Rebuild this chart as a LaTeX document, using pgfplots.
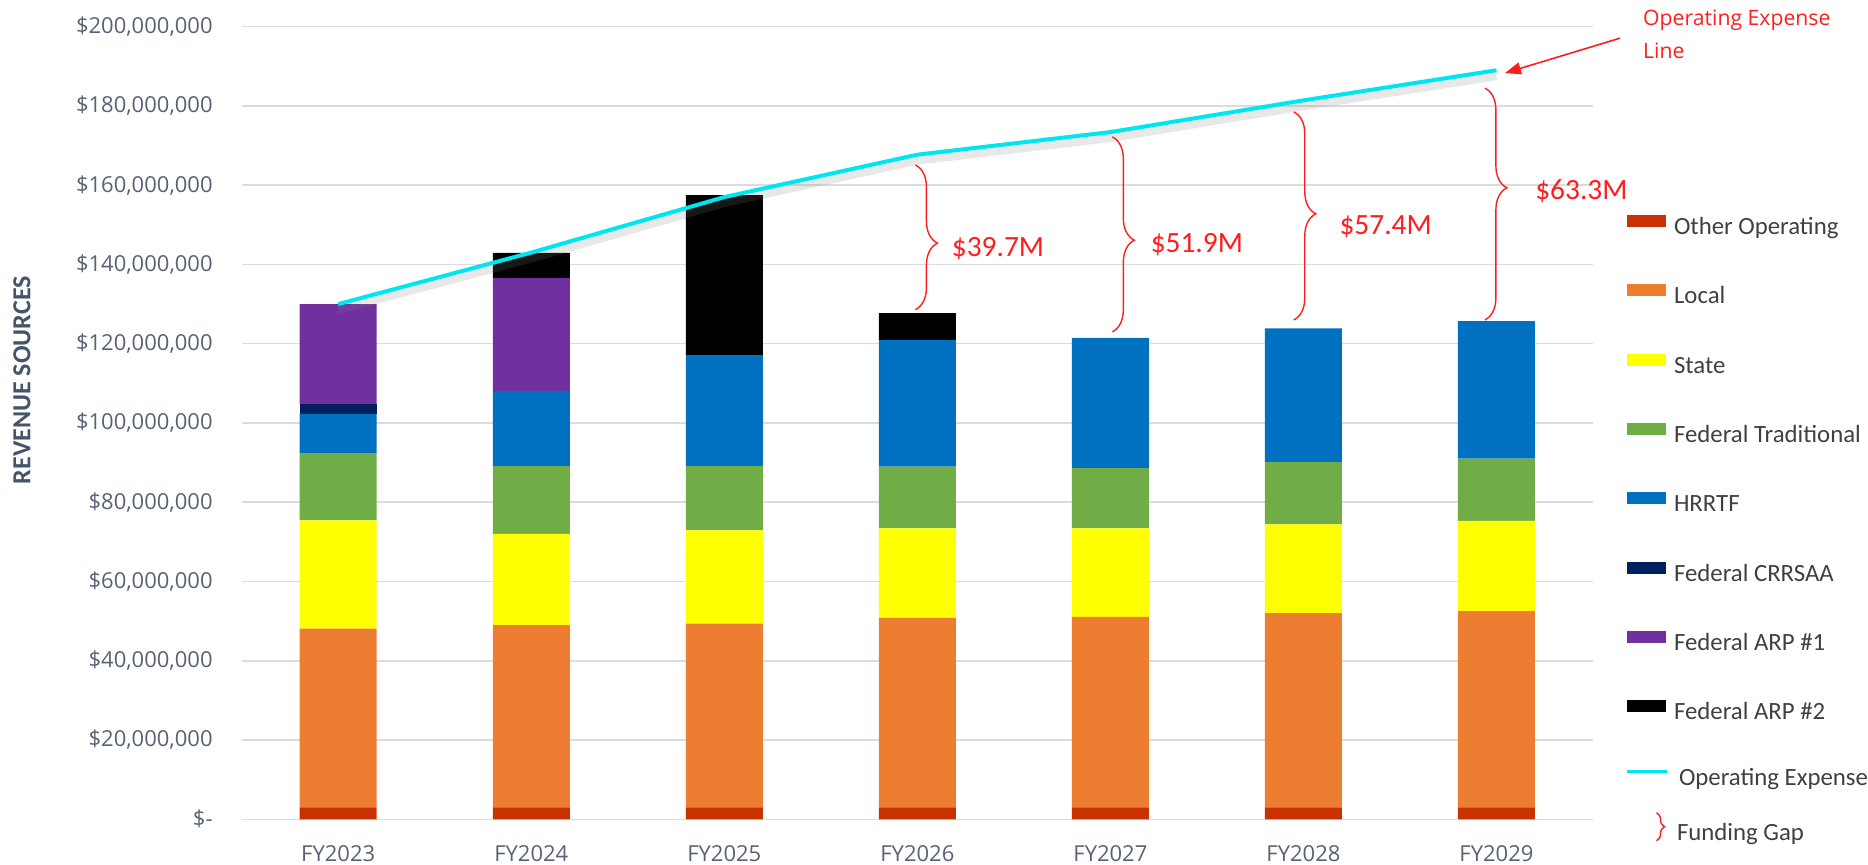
\documentclass[border=0pt]{standalone}
\usepackage{pgfplots}
\pgfplotsset{compat=1.18}
\usepackage{pgfplotstable}
\usepackage{fontspec}
\setmainfont{Open Sans}
\newfontfamily\carlito{Carlito}
\usetikzlibrary{decorations.pathreplacing,arrows.meta}

\definecolor{cOther}{RGB}{200,50,0}
\definecolor{cLocal}{RGB}{237,125,49}
\definecolor{cState}{RGB}{255,255,0}
\definecolor{cFed}{RGB}{112,173,71}
\definecolor{cHRRTF}{RGB}{0,112,192}
\definecolor{cCRRSAA}{RGB}{0,32,96}
\definecolor{cARPa}{RGB}{112,48,160}
\definecolor{cARPb}{RGB}{0,0,0}
\definecolor{cLine}{RGB}{0,230,240}
\definecolor{cRed}{RGB}{255,30,30}
\definecolor{cTick}{RGB}{89,98,117}
\definecolor{cGrid}{RGB}{220,220,224}
\definecolor{cLab}{RGB}{68,84,106}
\definecolor{cLeg}{RGB}{64,64,64}

% values in millions of dollars
\pgfplotstableread{
x other local state fedtrad hrrtf crrsaa arpa arpb opex
0 3 45.1 27.3 17.0  9.9 2.5 25.2  0.0 130.0
1 3 46.0 23.0 17.1 19.0 0.0 28.5  6.3 143.0
2 3 46.4 23.5 16.2 28.0 0.0  0.0 40.4 157.0
3 3 47.8 22.6 15.6 31.9 0.0  0.0  6.8 167.7
4 3 48.1 22.3 15.2 32.9 0.0  0.0  0.0 173.4
5 3 49.0 22.4 15.7 33.8 0.0  0.0  0.0 181.4
6 3 49.5 22.8 15.7 34.7 0.0  0.0  0.0 189.0
}\data

\pgfplotsset{
  base/.style={scale only axis, width=675.65pt, height=396.3pt,
    xmin=-0.5, xmax=6.5, ymin=0, ymax=200,
    at={(120.85pt,22.85pt)}, anchor=south west, clip=false},
  patchleg/.style={legend image code/.code={\fill[##1,draw=none] (0pt,1pt) rectangle (19.5pt,7pt);}},
}

\begin{document}
\begin{tikzpicture}
\path[use as bounding box] (0,0) rectangle (934pt,432.5pt);
\begin{axis}[base,
  ybar stacked, bar width=38.5pt,
  axis line style={draw=none},
  major tick length=0pt,
  ymajorgrids, grid style={cGrid, line width=0.75pt},
  ytick={0,20,...,200},
  yticklabels={{\$-},{\$20,000,000},{\$40,000,000},{\$60,000,000},{\$80,000,000},{\$100,000,000},{\$120,000,000},{\$140,000,000},{\$160,000,000},{\$180,000,000},{\$200,000,000}},
  xtick={0,...,6},
  xticklabels={FY2023,FY2024,FY2025,FY2026,FY2027,FY2028,FY2029},
  yticklabel style={font=\fontsize{11}{13}\selectfont, text=cTick, inner sep=0pt, anchor=east, xshift=-14.35pt},
  xticklabel style={font=\fontsize{11}{13}\selectfont, text=cTick, inner sep=0pt, anchor=north, yshift=-13pt},
  ylabel={REVENUE SOURCES},
  ylabel style={at={(axis description cs:-0.1626,0.554)}, anchor=center, font=\carlito\bfseries\fontsize{13}{15}\selectfont, text=cLab},
  legend style={at={(axis description cs:1.0237,0.7624)}, anchor=north west, draw=none, fill=none,
    inner sep=0pt, outer sep=0pt, row sep=22.4pt, column sep=3pt,
    font=\carlito\fontsize{12.4}{14}\selectfont, text=cLeg,
    nodes={inner sep=0pt, text height=8pt, text depth=2.5pt}},
  legend cell align=left,
]
\addplot[fill=cOther, draw=none, patchleg] table[x=x,y=other]{\data};
\addlegendentry{Other Operating}
\addplot[fill=cLocal, draw=none, patchleg] table[x=x,y=local]{\data};
\addlegendentry{Local}
\addplot[fill=cState, draw=none, patchleg] table[x=x,y=state]{\data};
\addlegendentry{State}
\addplot[fill=cFed, draw=none, patchleg] table[x=x,y=fedtrad]{\data};
\addlegendentry{Federal Traditional}
\addplot[fill=cHRRTF, draw=none, patchleg] table[x=x,y=hrrtf]{\data};
\addlegendentry{HRRTF}
\addplot[fill=cCRRSAA, draw=none, patchleg] table[x=x,y=crrsaa]{\data};
\addlegendentry{Federal CRRSAA}
\addplot[fill=cARPa, draw=none, patchleg] table[x=x,y=arpa]{\data};
\addlegendentry{Federal ARP \#1}
\addplot[fill=cARPb, draw=none, patchleg] table[x=x,y=arpb]{\data};
\addlegendentry{Federal ARP \#2}
\addlegendimage{legend image code/.code={\draw[cLine, line width=1.5pt] (0pt,4pt) -- (20pt,4pt);}}
\addlegendentry{\hspace{2.5pt}Operating Expense}
\addlegendimage{legend image code/.code={\draw[overlay, cRed, line width=0.7pt, decorate, decoration={brace, amplitude=4pt}] (15pt,16.5pt) -- (15pt,2.5pt);}}
\addlegendentry{\raisebox{5.5pt}{\hspace{1.5pt}Funding Gap}}
\end{axis}

\begin{axis}[base, hide axis]
\addplot[gray, opacity=0.18, line width=4pt, /tikz/yshift=-3pt, forget plot] table[x=x,y=opex]{\data};
\addplot[cLine, line width=2pt] table[x=x,y=opex]{\data};
% funding gap braces
\draw[cRed, line width=0.7pt, decorate, decoration={brace, amplitude=11pt, aspect=0.54}] (axis cs:2.99,165.1) -- (axis cs:2.99,128.6);
\draw[cRed, line width=0.7pt, decorate, decoration={brace, amplitude=11pt, aspect=0.53}] (axis cs:4.01,172.2) -- (axis cs:4.01,123.0);
\draw[cRed, line width=0.7pt, decorate, decoration={brace, amplitude=11pt, aspect=0.49}] (axis cs:4.95,178.5) -- (axis cs:4.95,126.0);
\draw[cRed, line width=0.7pt, decorate, decoration={brace, amplitude=11pt, aspect=0.43}] (axis cs:5.94,184.5) -- (axis cs:5.94,126.0);
\node[anchor=west, inner sep=0pt, text=cRed, font=\carlito\fontsize{14.7}{16}\selectfont] at (axis cs:3.177,143.9) {\$39.7M};
\node[anchor=west, inner sep=0pt, text=cRed, font=\carlito\fontsize{14.7}{16}\selectfont] at (axis cs:4.207,144.9) {\$51.9M};
\node[anchor=west, inner sep=0pt, text=cRed, font=\carlito\fontsize{14.7}{16}\selectfont] at (axis cs:5.185,149.5) {\$57.4M};
\node[anchor=west, inner sep=0pt, text=cRed, font=\carlito\fontsize{14.7}{16}\selectfont] at (axis cs:6.199,158.5) {\$63.3M};
% operating expense line callout
\node[anchor=north west, inner sep=0pt, align=left, text=cRed, font=\fontsize{10.6}{16.5}\selectfont] at (axis cs:6.758,204.2) {Operating Expense\\Line};
\draw[cRed, line width=0.8pt, -{Triangle[length=8pt,width=6pt]}] (axis cs:6.64,197.1) -- (axis cs:6.044,188.3);
\end{axis}
\end{tikzpicture}
\end{document}
